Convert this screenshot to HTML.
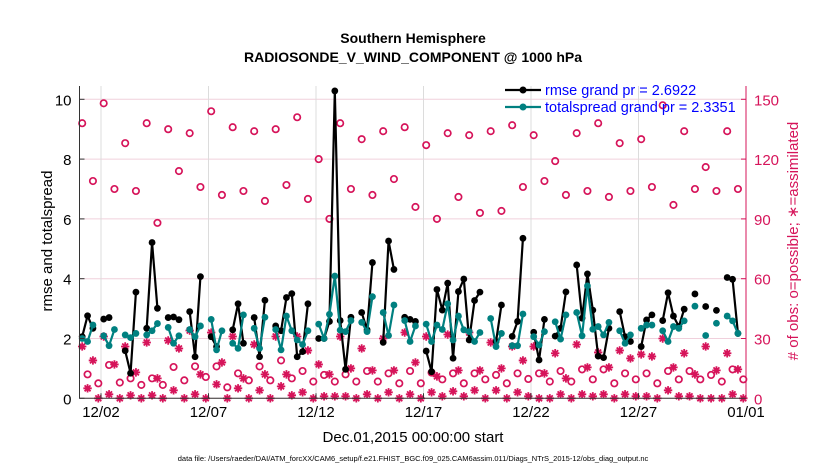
<!DOCTYPE html>
<html><head><meta charset="utf-8">
<style>
html,body{margin:0;padding:0;background:#fff;}
svg{display:block;font-family:"Liberation Sans",Arial,sans-serif;}
</style></head>
<body>
<svg id="chart" width="830" height="470" viewBox="0 0 830 470" xmlns="http://www.w3.org/2000/svg">
  <text x="413" y="43" text-anchor="middle" font-size="14" font-weight="bold">Southern Hemisphere</text>
  <text x="413" y="62" text-anchor="middle" font-size="14" font-weight="bold">RADIOSONDE_V_WIND_COMPONENT @ 1000 hPa</text>
  <g id="grid"></g>
  <g id="marks"></g>
  <g id="axes"></g>
  <text transform="translate(52,241) rotate(-90)" text-anchor="middle" font-size="15">rmse and totalspread</text>
  <text transform="translate(798,241) rotate(-90)" text-anchor="middle" font-size="15" fill="#d6145a"># of obs: o=possible; ∗=assimilated</text>
  <text x="413" y="442" text-anchor="middle" font-size="15">Dec.01,2015 00:00:00 start</text>
  <text x="413" y="461" text-anchor="middle" font-size="7.5">data file: /Users/raeder/DAI/ATM_forcXX/CAM6_setup/f.e21.FHIST_BGC.f09_025.CAM6assim.011/Diags_NTrS_2015-12/obs_diag_output.nc</text>
  <g id="legend">
    <line x1="505" y1="90" x2="541" y2="90" stroke="#000" stroke-width="2.2"/>
    <circle cx="523" cy="90" r="3.5" fill="#000"/>
    <text x="545" y="95" font-size="14.5" fill="#0000ff">rmse grand pr = 2.6922</text>
    <line x1="505" y1="107" x2="541" y2="107" stroke="#008080" stroke-width="2.2"/>
    <circle cx="523" cy="107" r="3.5" fill="#008080"/>
    <text x="545" y="112" font-size="14.5" fill="#0000ff">totalspread grand pr = 2.3351</text>
  </g>
</svg>
<script>
var n=null;
var rmseValues=[2.06,2.76,2.34,n,2.65,2.70,n,n,1.59,0.84,3.55,n,2.34,5.21,3.01,n,2.70,2.72,2.63,n,2.90,1.39,4.07,n,2.06,1.73,n,n,2.29,3.16,1.84,n,2.70,1.39,3.28,n,2.42,2.26,3.37,3.50,1.39,1.56,3.16,n,2.0,2.0,2.57,10.28,2.6,0.97,2.71,n,2.87,2.29,4.54,n,1.87,5.26,4.31,n,2.71,2.64,2.57,n,1.58,0.89,3.64,2.95,3.85,1.34,3.57,3.99,1.95,3.27,3.55,n,n,1.9,3.12,n,2.07,2.57,5.35,n,2.21,1.28,2.64,n,2.08,2.34,3.56,n,4.46,2.68,4.16,2.95,1.41,1.36,2.34,n,2.9,2.06,1.9,n,1.73,2.62,2.79,n,2.6,3.53,2.75,2.4,2.98,n,3.49,n,3.07,n,2.94,n,4.04,3.98,2.17,n];
var spreadValues=[2.0,1.9,2.45,n,2.09,1.76,2.3,n,2.12,2.03,2.17,n,2.12,2.26,2.5,n,2.37,1.84,2.09,n,2.3,2.06,2.42,n,2.64,1.62,2.26,n,1.84,1.67,2.79,n,2.34,1.67,2.71,n,2.3,1.62,2.75,2.26,1.95,1.8,2.26,n,2.48,2.0,2.81,4.09,2.28,2.23,2.6,n,2.54,2.23,3.4,n,2.87,2.1,3.12,n,2.6,1.9,2.42,n,2.48,1.9,2.45,2.3,3.16,1.95,2.75,2.29,2.23,1.9,2.2,n,2.67,1.73,2.17,n,1.76,1.76,2.82,n,2.06,1.78,2.23,n,2.56,1.98,2.79,n,2.87,2.09,3.76,2.31,2.4,2.12,2.54,n,2.26,1.84,2.12,n,2.34,2.45,2.45,n,2.26,1.9,2.4,2.34,2.59,n,3.08,n,2.1,n,2.51,n,2.75,2.59,2.17,n];
var possibleCounts=[138,12,109,7.5,148,16.7,105,7.9,128,10,104,6.7,138,10,88,6.7,135,15.7,114,9,133,16,106,10.7,144,16,102,5.5,136,12.5,104,9,134,16,99,9,135,19,107,10,141,13.7,100,8.4,120,11.7,90,8.4,138,12,105,8.4,130,13.7,102,8.4,134,12.5,110,7.5,136,13.7,96,7.5,127,12.9,90,9.5,133,12.5,101,7.5,132,12.5,93,9.5,134,11.7,94,7.5,137,12.5,106,9.7,132,12.5,109,8.4,119,13.7,102,8.4,133,14.5,104,9.5,138,14.5,101,7.5,128,12.5,104,9.5,130,12.5,106,7.5,147,13.7,97,9.5,134,13.7,105,9.5,116,11.7,104,8.4,134,14.5,105,9.5];
var assimCounts=[26,5,19,0,31,2,17,0,26,1.5,13,0,28,1.5,10,0,29,4,25,0,34,2,12,0,33,7,18,0,31,5,10,0,27,4,12,0,31,6,12,1.5,31,3,24,0,17,1,12,1,31,1,15,0,25,2,14,0,30,3,14,0,33,2,18,0,31,3,11,1,32,3.5,14,1,33,4,14,0,28,4,15,0,26,3,19,1,26,0,12.5,0,22.6,2,10,0,27,2,15.5,1,23,2,15.5,0,24,2,20,1,22,1,21,0,30,4,15.5,1,22.6,1,12,0,26,0,14,0,22.6,2,14.5,0];
var xTickLabels=["12/02","12/07","12/12","12/17","12/22","12/27","01/01"];
var xTickDays=[1,6,11,16,21,26,31];
var yLeftTicks=[0,2,4,6,8,10];
var yRightTicks=[0,30,60,90,120,150];

var X0=79.5,X1=746,Y0=398.3,YTOP=86,DAYS=31,BINS=124;
function xDay(d){return X0+d*(X1-X0)/DAYS;}
function xBin(i){return xDay((i+0.5)*DAYS/BINS);}
function yL(v){return Y0-v*29.9;}
function yR(c){return yL(c/15);}
var NS="http://www.w3.org/2000/svg";
function mk(tag,attrs,parent){var e=document.createElementNS(NS,tag);for(var k in attrs)e.setAttribute(k,attrs[k]);parent.appendChild(e);return e;}
var grid=document.getElementById('grid'),marks=document.getElementById('marks'),axes=document.getElementById('axes');
var RED="#d6145a";

yLeftTicks.forEach(function(t){
  var g=mk('line',{x1:X0,x2:X1,y1:yL(t),y2:yL(t),stroke:"#f0d0dc","stroke-width":1},grid);
  
  
  var tl=mk('text',{x:X0-8,y:yL(t)+6,"text-anchor":"end","font-size":15},axes);tl.textContent=t;
  
  
  mk('line',{x1:X0,x2:X0+5,y1:yL(t),y2:yL(t),stroke:"#333"},axes);
});
yRightTicks.forEach(function(t){
  var tl=mk('text',{x:X1+8,y:yR(t)+6,"font-size":15,fill:RED},axes);tl.textContent=t;
  
  
  mk('line',{x1:X1-5,x2:X1,y1:yR(t),y2:yR(t),stroke:RED},axes);
});
xTickDays.forEach(function(d,i){
  var gl=mk('line',{x1:xDay(d),x2:xDay(d),y1:YTOP,y2:Y0,stroke:"#dcdcdc","stroke-width":1},grid);
  
  
  mk('line',{x1:xDay(d),x2:xDay(d),y1:Y0,y2:Y0-5,stroke:"#333"},axes);
  var tl=mk('text',{x:xDay(d),y:417,"text-anchor":"middle","font-size":15},axes);tl.textContent=xTickLabels[i];
  
  
});
var ax=mk('path',{d:"M"+X0+","+YTOP+"V"+Y0+"H"+X1,fill:"none",stroke:"#333","stroke-width":1},axes);


var axr=mk('line',{x1:X1,x2:X1,y1:YTOP,y2:Y0,stroke:RED,"stroke-width":1},axes);



possibleCounts.forEach(function(c,i){
  var e=mk('circle',{cx:xBin(i),cy:yR(c),r:3.2,fill:"none",stroke:RED,"stroke-width":1.7},marks);
  
  
});
assimCounts.forEach(function(c,i){
  var cx=xBin(i),cy=yR(c),r=4.2,d="";
  for(var k=0;k<4;k++){var a=k*Math.PI/4;d+="M"+(cx-r*Math.cos(a))+","+(cy-r*Math.sin(a))+"L"+(cx+r*Math.cos(a))+","+(cy+r*Math.sin(a));}
  var e=mk('path',{d:d,stroke:RED,"stroke-width":1.8},marks);
  
  
});
function series(vals,color,name){
  var d="",pen=false;
  vals.forEach(function(v,i){
    if(v===null){pen=false;return;}
    d+=(pen?"L":"M")+xBin(i)+","+yL(v);pen=true;
  });
  var p=mk('path',{d:d,fill:"none",stroke:color,"stroke-width":2.2,"stroke-linejoin":"round"},marks);
  
  
  vals.forEach(function(v,i){
    if(v===null)return;
    var c=mk('circle',{cx:xBin(i),cy:yL(v),r:3.4,fill:color},marks);
    
    
  });
}
series(rmseValues,"#000","rmse");
series(spreadValues,"#008080","totalspread");
</script>
</body></html>
